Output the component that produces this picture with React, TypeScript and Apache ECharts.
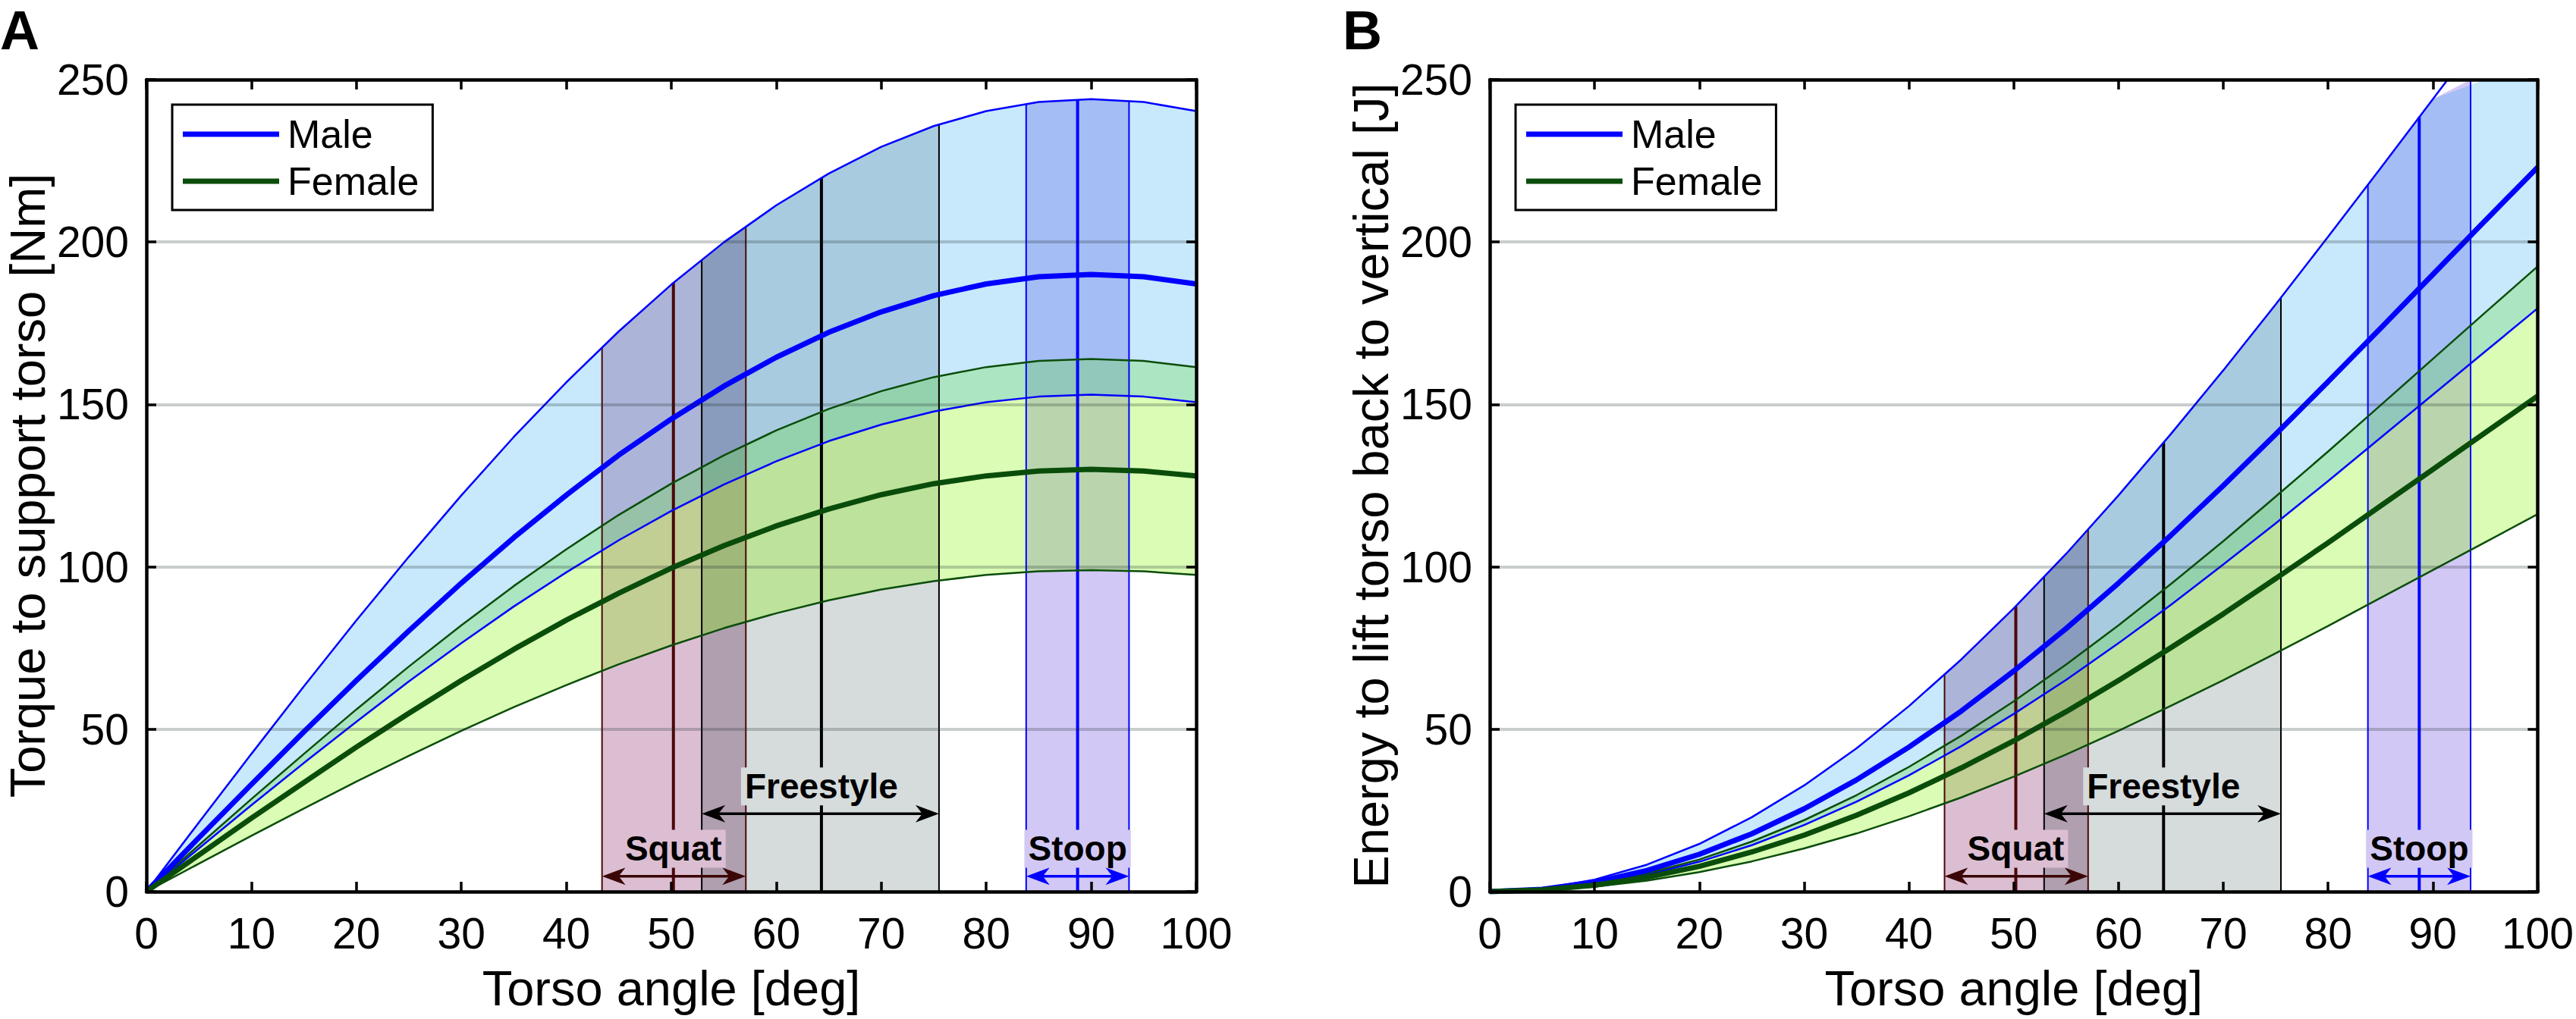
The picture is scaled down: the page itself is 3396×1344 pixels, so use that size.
import React, { useEffect, useRef } from "react";
import * as echarts from "echarts";

// ---------------- data ----------------
const ANGLES = [0, 5, 10, 15, 20, 25, 30, 35, 40, 45, 50, 55, 60, 65, 70, 75, 80, 85, 90, 95, 100];

// Panel A: torque to support torso [Nm]
const TORQUE_MALE_UPPER = [0, 21.3, 42.4, 63.2, 83.5, 103.1, 122.0, 140.0, 156.8, 172.5, 186.9, 199.9, 211.3, 221.1, 229.3, 235.7, 240.3, 243.1, 244.0, 243.1, 240.3];
const TORQUE_MALE_MEAN = [0, 16.6, 33.0, 49.2, 65.0, 80.3, 95.0, 109.0, 122.1, 134.4, 145.5, 155.6, 164.5, 172.2, 178.5, 183.5, 187.1, 189.3, 190.0, 189.3, 187.1];
const TORQUE_MALE_LOWER = [0, 13.3, 26.6, 39.6, 52.3, 64.7, 76.5, 87.8, 98.3, 108.2, 117.2, 125.3, 132.5, 138.7, 143.8, 147.8, 150.7, 152.4, 153.0, 152.4, 150.7];
const TORQUE_FEMALE_UPPER = [0, 14.3, 28.5, 42.4, 56.1, 69.3, 82.0, 94.1, 105.4, 116.0, 125.6, 134.3, 142.0, 148.6, 154.1, 158.4, 161.5, 163.4, 164.0, 163.4, 161.5];
const TORQUE_FEMALE_MEAN = [0, 11.3, 22.6, 33.6, 44.5, 54.9, 65.0, 74.6, 83.6, 91.9, 99.6, 106.5, 112.6, 117.8, 122.2, 125.6, 128.0, 129.5, 130.0, 129.5, 128.0];
const TORQUE_FEMALE_LOWER = [0, 8.6, 17.2, 25.6, 33.9, 41.8, 49.5, 56.8, 63.6, 70.0, 75.8, 81.1, 85.7, 89.7, 93.0, 95.6, 97.5, 98.6, 99.0, 98.6, 97.5];

// Panel B: energy to lift torso back to vertical [J]
const ENERGY_MALE_UPPER = [0, 0.9, 3.7, 8.3, 14.7, 22.9, 32.7, 44.1, 57.1, 71.5, 87.2, 104.0, 122.0, 140.9, 160.5, 180.8, 201.6, 222.7, 244.0, 265.3, 286.4];
const ENERGY_MALE_MEAN = [0, 0.7, 2.9, 6.5, 11.5, 17.8, 25.5, 34.4, 44.5, 55.6, 67.9, 81.0, 95.0, 109.7, 125.0, 140.8, 157.0, 173.4, 190.0, 206.6, 223.0];
const ENERGY_MALE_LOWER = [0, 0.6, 2.3, 5.2, 9.2, 14.3, 20.5, 27.7, 35.8, 44.8, 54.7, 65.2, 76.5, 88.3, 100.7, 113.4, 126.4, 139.7, 153.0, 166.3, 179.6];
const ENERGY_FEMALE_UPPER = [0, 0.6, 2.5, 5.6, 9.9, 15.4, 22.0, 29.7, 38.4, 48.0, 58.6, 69.9, 82.0, 94.7, 107.9, 121.6, 135.5, 149.7, 164.0, 178.3, 192.5];
const ENERGY_FEMALE_MEAN = [0, 0.5, 2.0, 4.4, 7.8, 12.2, 17.4, 23.5, 30.4, 38.1, 46.4, 55.4, 65.0, 75.1, 85.5, 96.4, 107.4, 118.7, 130.0, 141.3, 152.6];
const ENERGY_FEMALE_LOWER = [0, 0.4, 1.5, 3.4, 6.0, 9.3, 13.3, 17.9, 23.2, 29.0, 35.4, 42.2, 49.5, 57.2, 65.1, 73.4, 81.8, 90.4, 99.0, 107.6, 116.2];

// Lifting technique ranges [deg]
const ACTIVITY_NAMES = ["Squat", "Freestyle", "Stoop"];
const ACTIVITY_LEFT = [43.4, 52.9, 83.8];
const ACTIVITY_CENTER = [50.2, 64.3, 88.7];
const ACTIVITY_RIGHT = [57.1, 75.5, 93.6];
const ARROW_Y = [4.7, 24.0, 4.7];
const LABEL_Y = [13.2, 32.4, 13.2];

// Heights of the range lines (they stop at the male upper curve)
const TORQUE_EDGE_LEFT = [167.6, 194.7, 242.6];
const TORQUE_EDGE_CENTER = [187.5, 219.9, 243.9];
const TORQUE_EDGE_RIGHT = [204.8, 236.2, 243.5];
const ENERGY_EDGE_LEFT = [66.7, 96.8, 217.6];
const ENERGY_EDGE_CENTER = [87.8, 138.2, 238.5];
const ENERGY_EDGE_RIGHT = [111.5, 182.9, 259.3];

const X_MIN = 0, X_MAX = 100, X_STEP = 10;
const Y_MIN = 0, Y_MAX = 250, Y_STEP = 50;

// ---------------- styles ----------------
const W = 3396, H = 1344;
const FONT = '"Liberation Sans", Arial, Helvetica, sans-serif';
const GRID_LEFTS = [193, 1964];
const GRID_TOP = 105;
const GRID_W = 1384;
const GRID_H = 1071;

const MALE_COLOR = "#0000ff";
const FEMALE_COLOR = "#0a4d0a";
const MALE_FILL = "rgba(0,148,241,0.216)";
const FEMALE_FILL = "rgba(129,245,0,0.294)";
const ACT_FILL = ["#dcbed2", "#d6dbdc", "#d2c8f5"];
const ACT_BOTH_FILL = "#af9faf"; // squat ∩ freestyle
const ACT_LABEL_BG = ["#dcbed2", "#d6dbdc", "#d2c8f5"];
const ACT_LINE = ["#4a0808", "#000000", "#0000ff"];
const ACT_ARROW = ["#3a0606", "#000000", "#0000ff"];

type Curves = { mu: number[]; mm: number[]; ml: number[]; fu: number[]; fm: number[]; fl: number[] };
type Edges = { left: number[]; center: number[]; right: number[] };

const PANELS: { title: string; yName: string; curves: Curves; edges: Edges }[] = [
  {
    title: "A",
    yName: "Torque to support torso [Nm]",
    curves: { mu: TORQUE_MALE_UPPER, mm: TORQUE_MALE_MEAN, ml: TORQUE_MALE_LOWER, fu: TORQUE_FEMALE_UPPER, fm: TORQUE_FEMALE_MEAN, fl: TORQUE_FEMALE_LOWER },
    edges: { left: TORQUE_EDGE_LEFT, center: TORQUE_EDGE_CENTER, right: TORQUE_EDGE_RIGHT },
  },
  {
    title: "B",
    yName: "Energy to lift torso back to vertical [J]",
    curves: { mu: ENERGY_MALE_UPPER, mm: ENERGY_MALE_MEAN, ml: ENERGY_MALE_LOWER, fu: ENERGY_FEMALE_UPPER, fm: ENERGY_FEMALE_MEAN, fl: ENERGY_FEMALE_LOWER },
    edges: { left: ENERGY_EDGE_LEFT, center: ENERGY_EDGE_CENTER, right: ENERGY_EDGE_RIGHT },
  },
];

function makeRenderItem(curves: Curves, edges: Edges) {
  return function (_params: any, api: any) {
    const pt = (x: number, y: number) => api.coord([x, Math.min(y, Y_MAX)]);
    const band = (lo: number[], hi: number[]) => {
      const top = ANGLES.map((a, i) => pt(a, hi[i]));
      const bottom = ANGLES.map((a, i) => pt(a, lo[i])).reverse();
      return top.concat(bottom);
    };
    // a range from x0 to x1, shaded from 0 up to the male upper curve
    const rangePoly = (x0: number, h0: number, x1: number, h1: number) => {
      const pts: number[][] = [pt(x0, 0), pt(x0, h0)];
      ANGLES.forEach((a, i) => {
        if (a > x0 && a < x1) pts.push(pt(a, curves.mu[i]));
      });
      pts.push(pt(x1, h1), pt(x1, 0));
      return pts;
    };
    const children: any[] = [];

    // technique ranges (underneath the translucent bands)
    ACTIVITY_LEFT.forEach((x0, k) => {
      children.push({
        type: "polygon",
        shape: { points: rangePoly(x0, edges.left[k], ACTIVITY_RIGHT[k], edges.right[k]) },
        style: { fill: ACT_FILL[k] },
      });
      if (k === 1) {
        // overlap of squat and freestyle ranges
        children.push({
          type: "polygon",
          shape: { points: rangePoly(ACTIVITY_LEFT[1], edges.left[1], ACTIVITY_RIGHT[0], edges.right[0]) },
          style: { fill: ACT_BOTH_FILL },
        });
      }
    });

    // translucent population bands
    children.push({ type: "polygon", shape: { points: band(curves.fl, curves.fu) }, style: { fill: FEMALE_FILL } });
    children.push({ type: "polygon", shape: { points: band(curves.ml, curves.mu) }, style: { fill: MALE_FILL } });

    // range lines
    ACTIVITY_LEFT.forEach((x0, k) => {
      const items: [number, number, number][] = [
        [x0, edges.left[k], 2],
        [ACTIVITY_CENTER[k], edges.center[k], 4],
        [ACTIVITY_RIGHT[k], edges.right[k], 2],
      ];
      items.forEach(([x, h, w]) => {
        const p0 = pt(x, 0);
        const p1 = pt(x, h);
        children.push({
          type: "line",
          shape: { x1: p0[0], y1: p0[1], x2: p1[0], y2: p1[1] },
          style: { stroke: ACT_LINE[k], lineWidth: w },
        });
      });
    });

    // double arrows
    ACTIVITY_LEFT.forEach((x0, k) => {
      const a0 = pt(x0, ARROW_Y[k]);
      const a1 = pt(ACTIVITY_RIGHT[k], ARROW_Y[k]);
      const L = 31, HH = 11.5, N = 22;
      const col = ACT_ARROW[k];
      children.push({
        type: "line",
        shape: { x1: a0[0] + N, y1: a0[1], x2: a1[0] - N, y2: a1[1] },
        style: { stroke: col, lineWidth: 3.5 },
      });
      children.push({
        type: "polygon",
        shape: { points: [[a1[0], a1[1]], [a1[0] - L, a1[1] - HH], [a1[0] - N, a1[1]], [a1[0] - L, a1[1] + HH]] },
        style: { fill: col },
      });
      children.push({
        type: "polygon",
        shape: { points: [[a0[0], a0[1]], [a0[0] + L, a0[1] - HH], [a0[0] + N, a0[1]], [a0[0] + L, a0[1] + HH]] },
        style: { fill: col },
      });
    });

    // labels
    ACTIVITY_NAMES.forEach((name, k) => {
      const c = pt(ACTIVITY_CENTER[k], LABEL_Y[k]);
      children.push({
        type: "text",
        x: c[0],
        y: c[1],
        style: {
          text: name,
          font: `bold 46px ${FONT}`,
          fill: "#000",
          align: "center",
          verticalAlign: "middle",
          backgroundColor: ACT_LABEL_BG[k],
          padding: [2, 5, 2, 5],
        },
      });
    });

    return { type: "group", children };
  };
}

function buildOption(): any {
  const axisLine = { show: true, onZero: false, lineStyle: { color: "#000", width: 4.5 } };
  const axisTick = { show: true, inside: true, length: 13, lineStyle: { color: "#000", width: 3.5 } };
  const grids: any[] = [];
  const xAxes: any[] = [];
  const yAxes: any[] = [];
  const series: any[] = [];
  const legends: any[] = [];
  const graphics: any[] = [];

  PANELS.forEach((p, i) => {
    grids.push({ left: GRID_LEFTS[i], top: GRID_TOP, width: GRID_W, height: GRID_H, containLabel: false });
    xAxes.push({
      gridIndex: i, type: "value", min: X_MIN, max: X_MAX, interval: X_STEP, position: "bottom", z: 10,
      name: "Torso angle [deg]", nameLocation: "middle", nameGap: 95,
      nameTextStyle: { fontSize: 65, color: "#000", fontFamily: FONT },
      axisLine, axisTick,
      axisLabel: { fontSize: 57, color: "#000", fontFamily: FONT, margin: 26 },
      splitLine: { show: false },
    });
    xAxes.push({
      gridIndex: i, type: "value", min: X_MIN, max: X_MAX, interval: X_STEP, position: "top", z: 10,
      axisLine, axisTick, axisLabel: { show: false }, splitLine: { show: false },
    });
    yAxes.push({
      gridIndex: i, type: "value", min: Y_MIN, max: Y_MAX, interval: Y_STEP, position: "left", z: 10,
      name: p.yName, nameLocation: "middle", nameGap: 124, nameRotate: 90,
      nameTextStyle: { fontSize: 65, lineHeight: 66, color: "#000", fontFamily: FONT },
      axisLine, axisTick,
      axisLabel: { fontSize: 57, color: "#000", fontFamily: FONT, margin: 23 },
      splitLine: { show: true, lineStyle: { color: "rgba(20,40,40,0.23)", width: 4 } },
    });
    yAxes.push({
      gridIndex: i, type: "value", min: Y_MIN, max: Y_MAX, interval: Y_STEP, position: "right", z: 10,
      axisLine, axisTick, axisLabel: { show: false }, splitLine: { show: false },
    });

    const xi = 2 * i;
    series.push({
      type: "custom", name: "ranges" + i, coordinateSystem: "cartesian2d", xAxisIndex: xi, yAxisIndex: xi,
      data: [[0, 0]], renderItem: makeRenderItem(p.curves, p.edges), silent: true, z: 1,
    });
    const lines: [string, number[], string, number][] = [
      ["Male upper", p.curves.mu, MALE_COLOR, 2.5],
      ["Male lower", p.curves.ml, MALE_COLOR, 2.5],
      ["Female upper", p.curves.fu, FEMALE_COLOR, 2.5],
      ["Female lower", p.curves.fl, FEMALE_COLOR, 2.5],
      ["Male", p.curves.mm, MALE_COLOR, 7],
      ["Female", p.curves.fm, FEMALE_COLOR, 7],
    ];
    lines.forEach(([name, vals, col, w]) => {
      series.push({
        type: "line", name, xAxisIndex: xi, yAxisIndex: xi,
        data: ANGLES.map((a, k) => [a, vals[k]]),
        symbol: "none", showSymbol: false, color: col,
        lineStyle: { color: col, width: w }, silent: true, z: 3, clip: true,
      });
    });

    legends.push({
      data: ["Male", "Female"], orient: "vertical", left: GRID_LEFTS[i] + 34, top: 138,
      icon: "rect", itemWidth: 127, itemHeight: 7, itemGap: 6,
      padding: [11, 18, 10, 14], borderColor: "#000", borderWidth: 3, backgroundColor: "#fff",
      textStyle: { fontSize: 52, lineHeight: 56, color: "#000", fontFamily: FONT, padding: [0, 0, 0, 6] },
      selectedMode: false, z: 6,
    });

    graphics.push({
      type: "text", x: i === 0 ? 0 : 1770, y: 40,
      style: { text: p.title, font: `bold 72px ${FONT}`, fill: "#000", align: "left", verticalAlign: "middle", lineHeight: 60 },
    });
  });

  return {
    animation: false,
    backgroundColor: "#ffffff",
    grid: grids,
    xAxis: xAxes,
    yAxis: yAxes,
    legend: legends,
    series,
    graphic: graphics,
  };
}

export default function App() {
  const ref = useRef<HTMLDivElement>(null);
  useEffect(() => {
    if (!ref.current) return;
    const chart = echarts.init(ref.current, null, { renderer: "svg", width: W, height: H });
    chart.setOption(buildOption());
    return () => chart.dispose();
  }, []);
  return (
    <div
      ref={ref}
      style={{ position: "fixed", left: 0, top: 0, width: W, height: H, background: "#fff" }}
    />
  );
}
